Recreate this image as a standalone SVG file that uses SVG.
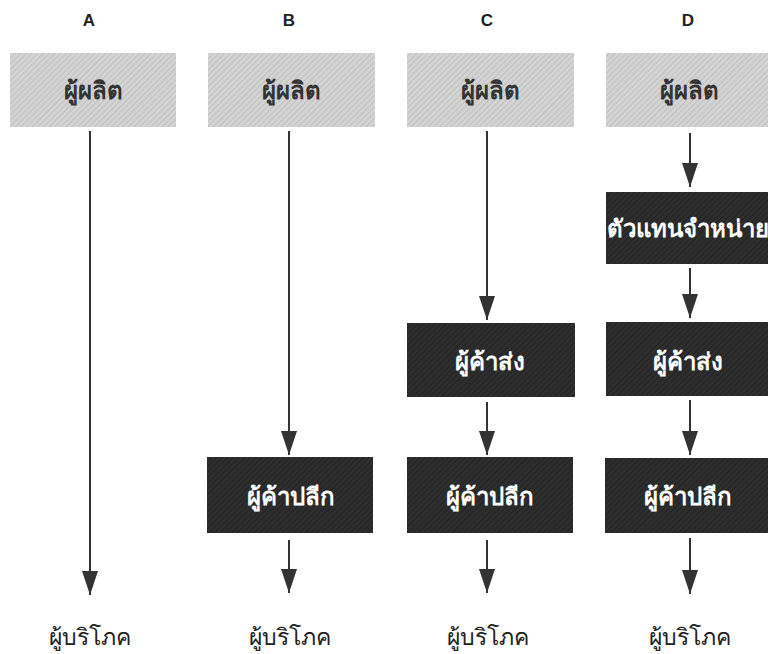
<svg xmlns="http://www.w3.org/2000/svg" width="768" height="654" viewBox="0 0 768 654">
<defs>
<pattern id="hatchL" width="4" height="4" patternUnits="userSpaceOnUse" patternTransform="rotate(45)">
<rect width="4" height="4" fill="#d4d4d4"/>
<line x1="0" y1="0" x2="0" y2="4" stroke="#b8b8b8" stroke-width="1.5"/>
</pattern>
<pattern id="hatchD" width="4" height="4" patternUnits="userSpaceOnUse" patternTransform="rotate(45)">
<rect width="4" height="4" fill="#2e2e2e"/>
<line x1="0" y1="0" x2="0" y2="4" stroke="#1e1e1e" stroke-width="1.5"/>
</pattern>
<marker id="arr" viewBox="0 0 24 16" refX="24" refY="8" markerWidth="24" markerHeight="16" markerUnits="userSpaceOnUse" orient="auto">
<path d="M0,0 L24,8 L0,16 Z" fill="#333"/>
</marker>
</defs>
<style>
.col{font-family:"Liberation Sans","DejaVu Sans",sans-serif;font-weight:bold;font-size:17px;fill:#222;text-anchor:middle}
.light{fill:url(#hatchL)}
.dark{fill:url(#hatchD)}
.lt{font-family:"Noto Sans","DejaVu Sans",sans-serif;font-size:24px;fill:#333;text-anchor:middle;font-weight:bold}
.dt{font-family:"Noto Sans","DejaVu Sans",sans-serif;font-size:24px;fill:#fff;text-anchor:middle;font-weight:bold}
.ct{font-family:"Noto Sans","DejaVu Sans",serif;font-size:23px;fill:#222;text-anchor:middle}
.conn line{stroke:#333;stroke-width:2;marker-end:url(#arr)}
</style>
<rect width="768" height="654" fill="#fff"/>
<g id="labels">
<text class="col" x="89" y="26">A</text>
<text class="col" x="289" y="26">B</text>
<text class="col" x="487" y="26">C</text>
<text class="col" x="688" y="26">D</text>
</g>
<g id="producerA"><rect class="light" x="10" y="53" width="166" height="74"/><text class="lt" x="93" y="99">ผู้ผลิต</text></g>
<g id="producerB"><rect class="light" x="208" y="53" width="167" height="74"/><text class="lt" x="291" y="99">ผู้ผลิต</text></g>
<g id="producerC"><rect class="light" x="407" y="53" width="167" height="74"/><text class="lt" x="490" y="99">ผู้ผลิต</text></g>
<g id="producerD"><rect class="light" x="606" y="53" width="162" height="74"/><text class="lt" x="689" y="99">ผู้ผลิต</text></g>
<g id="agentD"><rect class="dark" x="606" y="192" width="162" height="72"/><text class="dt" x="688" y="237">ตัวแทนจำหน่าย</text></g>
<g id="wholesaleC"><rect class="dark" x="407" y="323" width="168" height="74"/><text class="dt" x="490" y="370">ผู้ค้าส่ง</text></g>
<g id="wholesaleD"><rect class="dark" x="606" y="322" width="162" height="74"/><text class="dt" x="688" y="370">ผู้ค้าส่ง</text></g>
<g id="retailB"><rect class="dark" x="207" y="457" width="166" height="76"/><text class="dt" x="291" y="505">ผู้ค้าปลีก</text></g>
<g id="retailC"><rect class="dark" x="407" y="457" width="166" height="76"/><text class="dt" x="490" y="505">ผู้ค้าปลีก</text></g>
<g id="retailD"><rect class="dark" x="605" y="458" width="163" height="75"/><text class="dt" x="688" y="505">ผู้ค้าปลีก</text></g>
<g id="consumerA"><text class="ct" x="90" y="645">ผู้บริโภค</text></g>
<g id="consumerB"><text class="ct" x="290" y="645">ผู้บริโภค</text></g>
<g id="consumerC"><text class="ct" x="488" y="645">ผู้บริโภค</text></g>
<g id="consumerD"><text class="ct" x="690" y="645">ผู้บริโภค</text></g>
<g id="connectors" class="conn">
<line x1="90" y1="131" x2="90" y2="595"/>
<line x1="289" y1="131" x2="289" y2="455"/>
<line x1="289" y1="540" x2="289" y2="593"/>
<line x1="487" y1="131" x2="487" y2="320"/>
<line x1="487" y1="402" x2="487" y2="455"/>
<line x1="487" y1="540" x2="487" y2="593"/>
<line x1="690" y1="133" x2="690" y2="187"/>
<line x1="690" y1="268" x2="690" y2="318"/>
<line x1="690" y1="400" x2="690" y2="455"/>
<line x1="690" y1="538" x2="690" y2="594"/>
</g>
</svg>
